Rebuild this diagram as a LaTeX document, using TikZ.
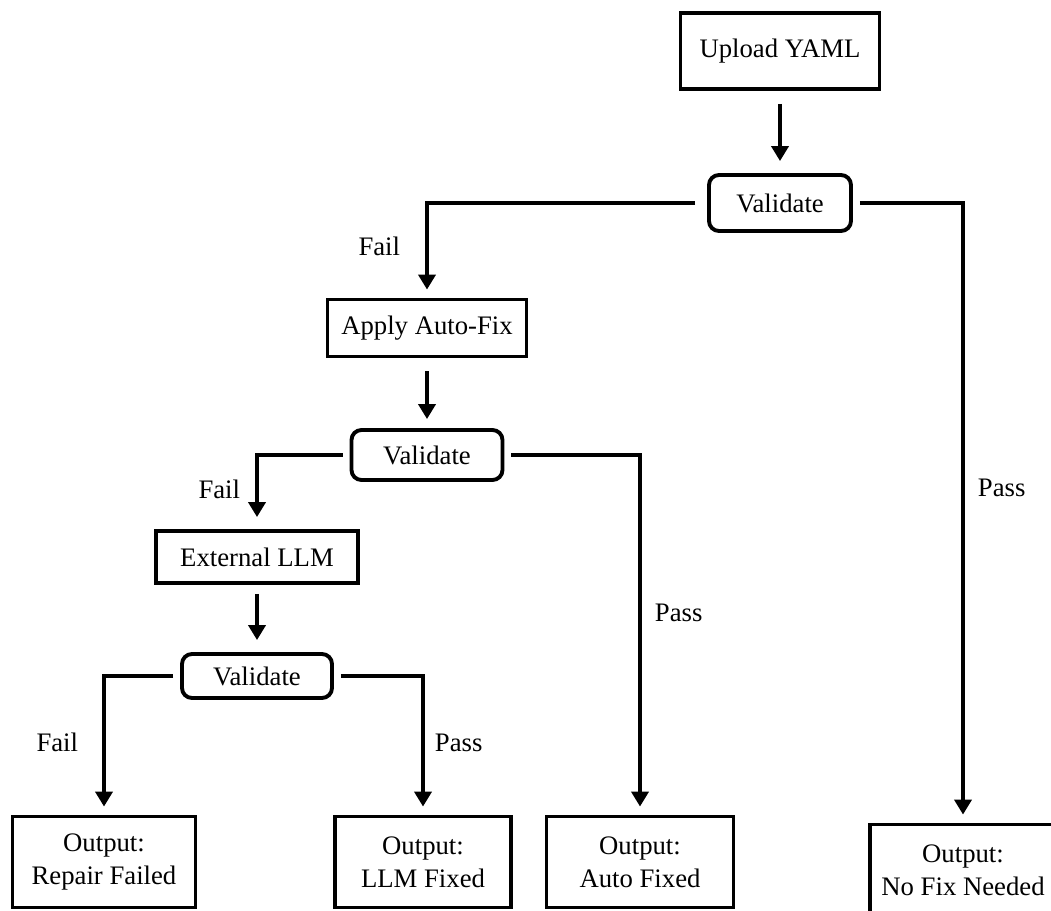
\documentclass[tikz,border=0pt]{standalone}
\usepackage{fontspec}
\setmainfont{Liberation Serif}
\usetikzlibrary{arrows.meta, positioning}

\tikzset{
  box/.style = {draw, line width=2.2pt, inner sep=0pt, align=center},
  check/.style = {box, rounded corners=0.2cm},
  outbox/.style = {box, minimum height=1.82cm},
  flow/.style = {line width=2.2pt, -{Triangle[length=0.3cm, width=0.34cm]}, shorten <=0.14cm, shorten >=0.16cm},
  lbl/.style = {inner sep=0pt}
}

\begin{document}
\begin{tikzpicture} [node distance = 2cm, on grid, font=\fontsize{15.2}{19}\selectfont]
    \useasboundingbox (0,0) rectangle (21.02,-18.22);

    \node (upload) [box, minimum width=3.98cm, minimum height=1.52cm] at (15.6,-1.02) {Upload YAML};
    \node (val1) [check, minimum width=2.84cm, minimum height=1.12cm, below = 3.04cm of upload] {Validate};
    \node (autofix) [box, minimum width=3.98cm, minimum height=1.14cm, below left = 2.5cm and 7.06cm of val1] {Apply Auto-Fix};
    \node (val2) [check, minimum width=3.02cm, minimum height=1cm, below = 2.54cm of autofix] {Validate};
    \node (extllm) [box, minimum width=4.04cm, minimum height=1.04cm, below left = 2.04cm and 3.4cm of val2] {External LLM};
    \node (val3) [check, minimum width=3cm, minimum height=0.88cm, below = 2.38cm of extllm] {Validate};
    \node (outfail) [outbox, minimum width=3.66cm, below left = 3.72cm and 3.06cm of val3] {Output:\\Repair Failed};
    \node (outllm) [outbox, minimum width=3.52cm, below right = 3.72cm and 3.32cm of val3] {Output:\\LLM Fixed};
    \node (outauto) [outbox, minimum width=3.74cm, below right = 8.14cm and 4.26cm of val2] {Output:\\Auto Fixed};
    \node (outnofix) [outbox, minimum width=3.72cm, below right = 13.34cm and 3.66cm of val1] {Output:\\No Fix Needed};

    \draw [flow, shorten <=0.26cm, shorten >=0.24cm] (upload) -- (val1);
    \draw [flow, shorten <=0.24cm] (val1.west) -| node [lbl, pos=0.73, left=0.5cm] {Fail} (autofix.north);
    \draw [flow] (val1.east) -| node [lbl, pos=0.73, right=0.26cm] {Pass} (outnofix.north);
    \draw [flow, shorten <=0.26cm, shorten >=0.18cm] (autofix) -- (val2);
    \draw [flow, shorten >=0.24cm] (val2.west) -| node [lbl, pos=0.73, left=0.3cm] {Fail} (extllm.north);
    \draw [flow] (val2.east) -| node [lbl, pos=0.72, right=0.26cm] {Pass} (outauto.north);
    \draw [flow, shorten <=0.18cm, shorten >=0.24cm] (extllm) -- (val3);
    \draw [flow] (val3.west) -| node [lbl, pos=0.74, left=0.48cm] {Fail} (outfail.north);
    \draw [flow] (val3.east) -| node [lbl, pos=0.74, right=0.2cm] {Pass} (outllm.north);
\end{tikzpicture}
\end{document}
